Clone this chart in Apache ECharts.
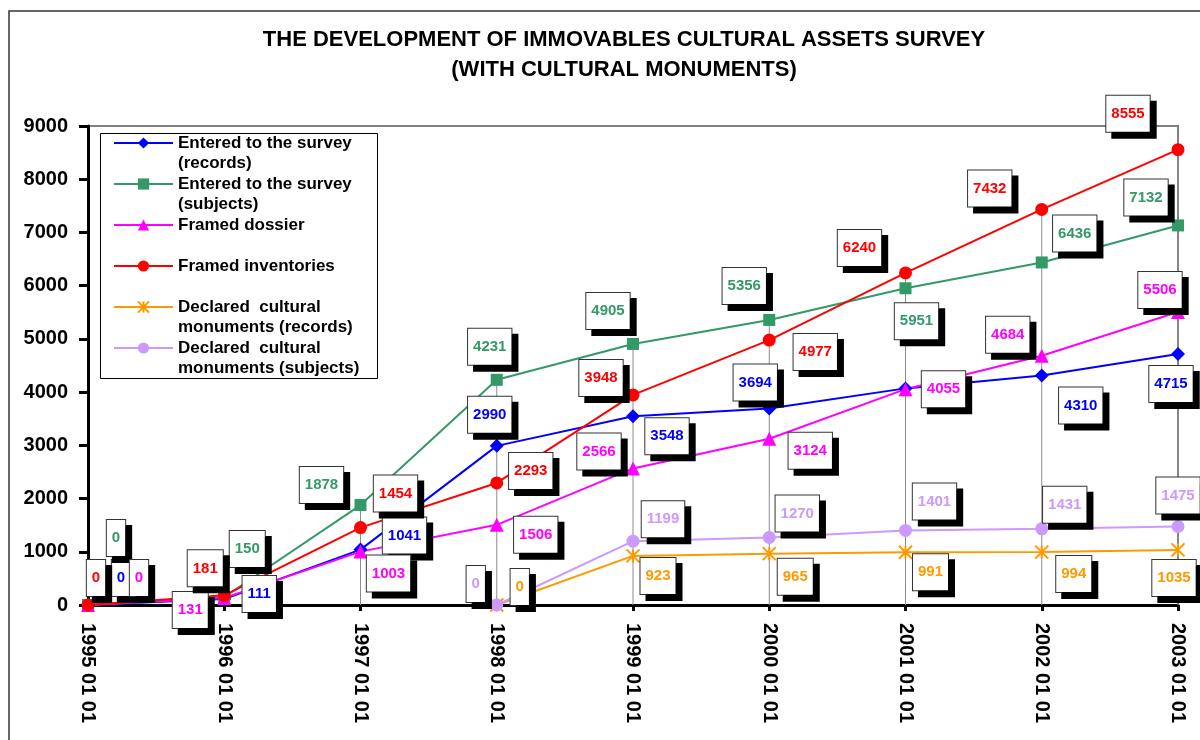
<!DOCTYPE html>
<html style="height: 100%">

<head>
    <meta charset="utf-8" />
    <title>Immovables cultural assets survey</title>
    <script src="https://cdn.jsdelivr.net/npm/echarts@6/dist/echarts.min.js"></script>
</head>

<body style="height: 100%; margin: 0; overflow: hidden; background: #fff">
    <div id="container" style="width: 1200px; height: 740px"></div>
    <script>
        // categories + values
        var years = ['1995 01 01', '1996 01 01', '1997 01 01', '1998 01 01', '1999 01 01',
            '2000 01 01', '2001 01 01', '2002 01 01', '2003 01 01'];
        var yMin = 0, yMax = 9000, yStep = 1000;

        var enteredRecords = [0, 111, 1041, 2990, 3548, 3694, 4070, 4310, 4715];
        var enteredSubjects = [0, 150, 1878, 4231, 4905, 5356, 5951, 6436, 7132];
        var framedDossier = [0, 131, 1003, 1506, 2566, 3124, 4055, 4684, 5506];
        var framedInventories = [0, 181, 1454, 2293, 3948, 4977, 6240, 7432, 8555];
        var declaredRecords = [null, null, null, 0, 923, 965, 991, 994, 1035];
        var declaredSubjects = [null, null, null, 0, 1199, 1270, 1401, 1431, 1475];

        var names = ['Entered to the survey (records)', 'Entered to the survey (subjects)',
            'Framed dossier', 'Framed inventories',
            'Declared cultural monuments (records)', 'Declared cultural monuments (subjects)'];
        // legend lines; first line sits level with the icon
        var legendLines = {
            'Entered to the survey (records)': ['Entered to the survey', '(records)'],
            'Entered to the survey (subjects)': ['Entered to the survey', '(subjects)'],
            'Framed dossier': ['Framed dossier', ''],
            'Framed inventories': ['Framed inventories', ''],
            'Declared cultural monuments (records)': ['Declared  cultural', 'monuments (records)'],
            'Declared cultural monuments (subjects)': ['Declared  cultural', 'monuments (subjects)']
        };

        // where each value box sits relative to its point (px), null = no box
        var boxShift = [
            [[33, -27], [35, -5], [44, -14], [-7, -31], [34, 20], [-14, -26], null, [39, 30], [-7, 30]],
            [[28, -67], [23, -48], [-39, -20], [-7, -33], [-25, -33], [-25, -34], [11, 33], [33, -29], [-32, -28]],
            [[51, -27], [-34, 12], [28, 22], [39, 10], [-34, -17], [41, 12], [38, 0], [-34, -21], [-18, -22]],
            [[8, -27], [-19, -27], [35, -34], [34, -12], [-32, -17], [46, 12], [-46, -25], [-52, -21], [-50, -36]],
            [null, null, null, [23, -18], [25, 20], [26, 23], [25, 20], [32, 22], [-4, 28]],
            [null, null, null, [-21, -21], [30, -22], [28, -24], [29, -29], [23, -24], [0, -31]]
        ];

        var colors = ['#0000ff', '#339966', '#ff00ff', '#ff0000', '#ff9900', '#cc99ff'];
        var symbols = ['diamond', 'rect', 'triangle', 'circle',
            'path://M0,0L10,10M10,0L0,10M5,0L5,10', 'circle'];
        var symbolSizes = [14, 12, 14, 13, 13, 13];
        var values = [enteredRecords, enteredSubjects, framedDossier, framedInventories,
            declaredRecords, declaredSubjects];

        var font = 'Liberation Sans, Arial, sans-serif';

        // drop lines go from the highest value of each year to the axis
        var dropTops = years.map(function (y, i) {
            return Math.max.apply(null, values.map(function (v) { return v[i] || 0; }));
        });

        var dom = document.getElementById('container');
        var myChart = echarts.init(dom, null, { renderer: 'canvas' });

        var series = [{
            type: 'custom',
            name: 'drop',
            silent: true,
            z: 1,
            data: dropTops.map(function (v, i) { return [i, v]; }),
            renderItem: function (params, api) {
                var top = api.coord([api.value(0), api.value(1)]);
                var bottom = api.coord([api.value(0), 0]);
                return {
                    type: 'line',
                    shape: { x1: top[0], y1: top[1], x2: bottom[0], y2: bottom[1] },
                    style: { stroke: '#8c8c8c', lineWidth: 1 }
                };
            }
        }];

        values.forEach(function (arr, s) {
            var isStar = s === 4;
            series.push({
                type: 'line',
                name: names[s],
                z: 2,
                symbol: symbols[s],
                symbolSize: symbolSizes[s],
                showAllSymbol: true,
                itemStyle: isStar
                    ? { color: colors[s], borderColor: colors[s], borderWidth: 2 }
                    : { color: colors[s] },
                lineStyle: { color: colors[s], width: 2 },
                data: arr.map(function (v, i) {
                    var sh = boxShift[s][i];
                    return {
                        value: v,
                        label: sh ? { show: true, offset: sh } : { show: false }
                    };
                }),
                label: {
                    show: true,
                    position: 'inside',
                    formatter: '{c}',
                    color: colors[s],
                    fontFamily: font,
                    fontWeight: 'bold',
                    fontSize: 15,
                    lineHeight: 16,
                    backgroundColor: '#fff',
                    borderColor: '#333',
                    borderWidth: 1,
                    padding: [10, 5],
                    shadowColor: '#000',
                    shadowOffsetX: 6,
                    shadowOffsetY: 6,
                    shadowBlur: 0
                }
            });
        });

        var option = {
            animation: false,
            backgroundColor: '#fff',
            title: {
                text: 'THE DEVELOPMENT OF IMMOVABLES CULTURAL ASSETS SURVEY\n(WITH CULTURAL MONUMENTS)',
                left: 624,
                top: 25,
                padding: 0,
                textAlign: 'center',
                textStyle: {
                    fontFamily: font,
                    fontWeight: 'bold',
                    fontSize: 22,
                    lineHeight: 30,
                    color: '#000'
                }
            },
            graphic: [
                {
                    type: 'rect', z: 0, silent: true,
                    shape: { x: 9, y: 11, width: 1400, height: 900 },
                    style: { fill: null, stroke: '#333', lineWidth: 1.5 }
                },
                {
                    type: 'rect', z: 0, silent: true,
                    shape: { x: 100.5, y: 133.5, width: 277, height: 245 },
                    style: { fill: '#fff', stroke: '#000', lineWidth: 1 }
                }
            ],
            legend: {
                orient: 'vertical',
                left: 113,
                top: 113,
                padding: 0,
                itemGap: -19,
                itemWidth: 59,
                itemHeight: 14,
                selectedMode: false,
                // empty top line pushes the first real line level with the icon
                formatter: function (name) {
                    var l = legendLines[name];
                    return ' \n' + l[0] + '\n' + (l[1] || ' ');
                },
                textStyle: {
                    fontFamily: font,
                    fontWeight: 'bold',
                    fontSize: 17,
                    lineHeight: 20,
                    color: '#000'
                },
                data: names
            },
            grid: {
                left: 88,
                right: 22,
                top: 126,
                bottom: 135,
                show: true,
                borderColor: '#808080',
                borderWidth: 2,
                containLabel: false,
                outerBoundsMode: 'none'
            },
            xAxis: {
                type: 'category',
                data: years,
                boundaryGap: false,
                axisLine: { lineStyle: { color: '#000', width: 3 } },
                axisTick: { show: true, length: 6, lineStyle: { color: '#000', width: 3 } },
                axisLabel: {
                    interval: 0,
                    rotate: -90,
                    margin: 18,
                    fontFamily: font,
                    fontWeight: 'bold',
                    fontSize: 20,
                    color: '#000'
                },
                splitLine: { show: false }
            },
            yAxis: {
                type: 'value',
                min: yMin,
                max: yMax,
                interval: yStep,
                axisLine: { show: true, lineStyle: { color: '#000', width: 3 } },
                axisTick: { show: true, length: 9, lineStyle: { color: '#000', width: 3 } },
                axisLabel: {
                    margin: 20,
                    formatter: function (v) { return String(v); },
                    fontFamily: font,
                    fontWeight: 'bold',
                    fontSize: 20,
                    color: '#000'
                },
                splitLine: { show: false }
            },
            series: series
        };

        myChart.setOption(option);
    </script>
</body>

</html>
